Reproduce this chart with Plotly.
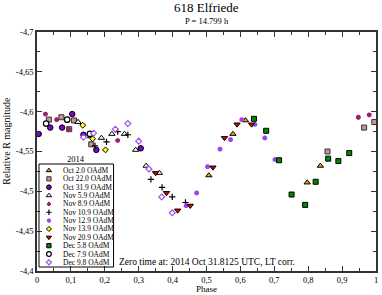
import plotly.graph_objects as go

# ---------------- data (phase, relative R magnitude) ----------------
oct02_x = [0.507, 0.578, 0.615, 0.797, 0.836]
oct02_y = [-4.520, -4.572, -4.589, -4.511, -4.532]

oct22_x = [0.035, 0.072, 0.095, 0.109, 0.160, 0.857, 0.965, 0.995]
oct22_y = [-4.590, -4.593, -4.578, -4.589, -4.559, -4.550, -4.580, -4.587]

oct31_x = [0.005, 0.039, 0.074, 0.104, 0.137, 0.175, 0.306]
oct31_y = [-4.572, -4.580, -4.580, -4.597, -4.571, -4.552, -4.554]

nov05_x = [0.121, 0.158, 0.190, 0.221, 0.258, 0.291, 0.322, 0.361]
nov05_y = [-4.587, -4.569, -4.567, -4.572, -4.572, -4.552, -4.532, -4.523]

nov08_x = [0.025, 0.058, 0.093, 0.238, 0.948, 0.980]
nov08_y = [-4.597, -4.590, -4.578, -4.564, -4.593, -4.596]

nov10_x = [0.171, 0.205, 0.238, 0.268, 0.336, 0.369, 0.399, 0.438]
nov10_y = [-4.557, -4.562, -4.575, -4.571, -4.515, -4.505, -4.493, -4.486]

nov12_x = [0.440, 0.471, 0.503, 0.540, 0.571, 0.604, 0.643, 0.672, 0.702]
nov12_y = [-4.482, -4.498, -4.531, -4.553, -4.565, -4.590, -4.584, -4.567, -4.540]

nov13_x = [0.135, 0.164, 0.202]
nov13_y = [-4.583, -4.566, -4.552]

nov20_x = [0.350, 0.382, 0.415, 0.452, 0.519, 0.553, 0.590, 0.633]
nov20_y = [-4.523, -4.498, -4.476, -4.482, -4.530, -4.567, -4.584, -4.584]

dec05_x = [0.640, 0.676, 0.714, 0.751, 0.791, 0.822, 0.859, 0.889, 0.921]
dec05_y = [-4.591, -4.576, -4.539, -4.496, -4.483, -4.512, -4.541, -4.538, -4.548]

dec07_x = [0.027, 0.089, 0.156]
dec07_y = [-4.585, -4.590, -4.572]

dec09_x = [0.137, 0.167, 0.231, 0.268, 0.300, 0.330, 0.368, 0.399]
dec09_y = [-4.568, -4.573, -4.578, -4.585, -4.563, -4.528, -4.493, -4.473]

x_ticks = [0, 0.1, 0.2, 0.3, 0.4, 0.5, 0.6, 0.7, 0.8, 0.9, 1.0]
x_ticklabels = ["0", "0,1", "0,2", "0,3", "0,4", "0,5", "0,6", "0,7", "0,8", "0,9", "1"]
y_ticks = [-4.7, -4.65, -4.6, -4.55, -4.5, -4.45, -4.4]
y_ticklabels = ["-4,7", "-4,65", "-4,6", "-4,55", "-4,5", "-4,45", "-4,4"]

# ---------------- styles ----------------
FONT = "Liberation Serif"
W, H = 382, 295
L, R, T, B = 37, 378, 32, 271


def px_x(px):
    return (px - L) / (R - L)


def px_y(py):
    return (B - py) / (B - T)


series = [
    ("Oct 2.0 OAdM", oct02_x, oct02_y, dict(symbol="triangle-up", size=5.5, color="#f0a000", line=dict(color="black", width=1))),
    ("Oct 22.0 OAdM", oct22_x, oct22_y, dict(symbol="square", size=5, color="#c89494", line=dict(color="#333333", width=1))),
    ("Oct 31.9 OAdM", oct31_x, oct31_y, dict(symbol="circle", size=5.5, color="#8000c8", line=dict(color="black", width=1))),
    ("Nov 5.9 OAdM", nov05_x, nov05_y, dict(symbol="triangle-up", size=5.5, color="white", line=dict(color="black", width=1))),
    ("Nov 8.9 OAdM", nov08_x, nov08_y, dict(symbol="asterisk-open", size=4, color="#a0206e", line=dict(color="#a0206e", width=2))),
    ("Nov 10.9 OAdM", nov10_x, nov10_y, dict(symbol="cross-thin-open", size=4.5, color="black", line=dict(color="black", width=1.2))),
    ("Nov 12.9 OAdM", nov12_x, nov12_y, dict(symbol="asterisk-open", size=4, color="#9848e8", line=dict(color="#9848e8", width=2))),
    ("Nov 13.9 OAdM", nov13_x, nov13_y, dict(symbol="diamond", size=4.5, color="#ffff00", line=dict(color="black", width=1))),
    ("Nov 20.9 OAdM", nov20_x, nov20_y, dict(symbol="triangle-down", size=5.5, color="#e00000", line=dict(color="black", width=1))),
    ("Dec 5.8 OAdM", dec05_x, dec05_y, dict(symbol="square", size=5, color="#008800", line=dict(color="black", width=1))),
    ("Dec 7.9 OAdM", dec07_x, dec07_y, dict(symbol="circle", size=5.5, color="white", line=dict(color="black", width=1.2))),
    ("Dec 9.8 OAdM", dec09_x, dec09_y, dict(symbol="diamond", size=4.5, color="white", line=dict(color="#a050f0", width=1.2))),
]

fig = go.Figure()
for name, xs, ys, mk in series:
    fig.add_trace(go.Scatter(x=xs, y=ys, mode="markers", name=name, marker=mk,
                             showlegend=False, cliponaxis=False))

# ---------------- hand-drawn compact legend (pixel overlay axes) ----------------
leg_x0, leg_x1, leg_y0, leg_y1 = 39, 114, 164, 267
item_y0, item_dy = 170.5, 8.35
sym_x, txt_x = 49, 61
for i, (name, xs, ys, mk) in enumerate(series):
    yy = item_y0 + i * item_dy
    mk2 = dict(mk)
    mk2["size"] = mk["size"] * 0.85
    fig.add_trace(go.Scatter(x=[sym_x], y=[yy], mode="markers", marker=mk2,
                             xaxis="x2", yaxis="y2", showlegend=False, hoverinfo="skip"))
    fig.add_annotation(x=txt_x, y=yy, xref="x2", yref="y2", text=name, showarrow=False,
                       xanchor="left", yanchor="middle", font=dict(family=FONT, size=7.5, color="black"))

fig.add_shape(type="rect", xref="x2", yref="y2", x0=leg_x0, x1=leg_x1, y0=leg_y0, y1=leg_y1,
              line=dict(color="black", width=1), fillcolor="rgba(0,0,0,0)")
fig.add_annotation(x=(leg_x0 + leg_x1) / 2, y=159, xref="x2", yref="y2", text="2014", showarrow=False,
                   xanchor="center", yanchor="middle", font=dict(family=FONT, size=8.5, color="black"))

# titles and notes (paper coordinates so they may sit outside the plot area)
fig.add_annotation(x=px_x(208), y=px_y(8), xref="paper", yref="paper", text="618 Elfriede", showarrow=False,
                   xanchor="center", yanchor="middle", font=dict(family=FONT, size=13, color="black"))
fig.add_annotation(x=px_x(208), y=px_y(20.5), xref="paper", yref="paper", text="P = 14.799 h", showarrow=False,
                   xanchor="center", yanchor="middle", font=dict(family=FONT, size=8.5, color="black"))
fig.add_annotation(x=px_x(117), y=px_y(261.5), xref="paper", yref="paper",
                   text="Zero time at: 2014 Oct 31.8125 UTC, LT corr.",
                   showarrow=False, xanchor="left", yanchor="middle", font=dict(family=FONT, size=9.5, color="black"))
fig.add_annotation(x=px_x(5.5), y=px_y(141), xref="paper", yref="paper", text="Relative R magnitude", showarrow=False,
                   textangle=-90, xanchor="center", yanchor="middle", font=dict(family=FONT, size=10, color="black"))
fig.add_annotation(x=px_x(208), y=px_y(289), xref="paper", yref="paper", text="Phase", showarrow=False,
                   xanchor="center", yanchor="middle", font=dict(family=FONT, size=9, color="black"))

axis_common = dict(showgrid=False, zeroline=False, showline=True, linecolor="#333333", linewidth=1.5,
                   mirror="allticks", ticks="inside", ticklen=5, tickwidth=1, tickcolor="#333333",
                   tickfont=dict(family=FONT, size=8.5, color="black"))

fig.update_layout(
    width=W, height=H,
    margin=dict(l=L, r=W - R, t=T, b=H - B, pad=0),
    paper_bgcolor="white", plot_bgcolor="white",
    showlegend=False,
    xaxis=dict(range=[0, 1], tickvals=x_ticks, ticktext=x_ticklabels,
               minor=dict(dtick=0.05, tick0=0, ticks="inside", ticklen=3, tickcolor="#333333"),
               **axis_common),
    yaxis=dict(range=[-4.4, -4.7], tickvals=y_ticks, ticktext=y_ticklabels,
               minor=dict(dtick=0.025, tick0=-4.7, ticks="inside", ticklen=3, tickcolor="#333333"),
               **axis_common),
    xaxis2=dict(range=[L, R], overlaying="x", visible=False, fixedrange=True),
    yaxis2=dict(range=[B, T], overlaying="y", visible=False, fixedrange=True),
)

fig.write_html("out.html", config={"displayModeBar": False},
               post_script="document.body.style.margin='0';document.body.style.padding='0';")
